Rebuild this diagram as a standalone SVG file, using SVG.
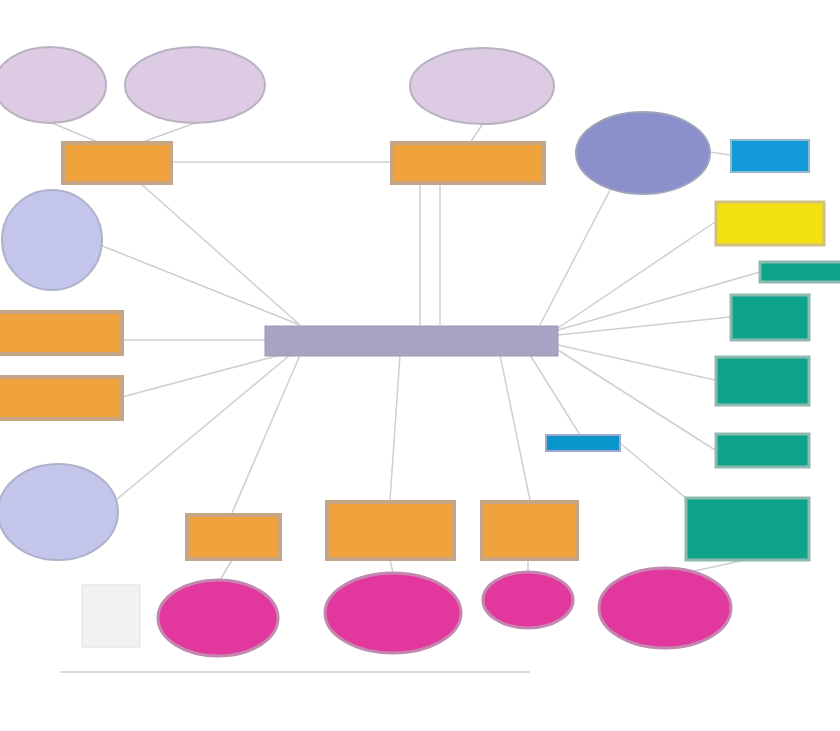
<svg xmlns="http://www.w3.org/2000/svg" width="840" height="731" viewBox="0 0 840 731">
<style>
.lav{fill:#dccbe2;stroke:#b9b2c2;stroke-width:2}
.peri{fill:#c3c6ea;stroke:#aeb2c8;stroke-width:2}
.org{fill:#f0a23c;stroke:#c6a584;stroke-width:4}
.ctr{fill:#a7a3c3;stroke:#9c98b4;stroke-width:1}
.blu{fill:#8b90cc;stroke:#a0a4b8;stroke-width:2}
.cyn{fill:#139ad8;stroke:#8fb8c8;stroke-width:2}
.yel{fill:#f2e010;stroke:#d0c080;stroke-width:3}
.tea{fill:#0ea48a;stroke:#8cbab0;stroke-width:3}
.mag{fill:#e2379c;stroke:#c488b0;stroke-width:3}
.sbl{fill:#0a96c8;stroke:#a0a8d0;stroke-width:2}
.edge{stroke:#cfcfcf;stroke-width:1.5;fill:none}
.lbl{fill:#e6e6e6}
</style>
<g id="connectors">
<line class="edge" x1="172" y1="162" x2="390" y2="162"/>
<line class="edge" x1="52" y1="123" x2="100" y2="143"/>
<line class="edge" x1="195" y1="123" x2="140" y2="143"/>
<line class="edge" x1="482" y1="125" x2="470" y2="143"/>
<line class="edge" x1="420" y1="183" x2="420" y2="325"/>
<line class="edge" x1="440" y1="183" x2="440" y2="325"/>
<line class="edge" x1="140" y1="183" x2="300" y2="325"/>
<line class="edge" x1="100" y1="245" x2="300" y2="325"/>
<line class="edge" x1="122" y1="340" x2="265" y2="340"/>
<line class="edge" x1="122" y1="397" x2="280" y2="355"/>
<line class="edge" x1="110" y1="505" x2="290" y2="355"/>
<line class="edge" x1="232" y1="513" x2="300" y2="355"/>
<line class="edge" x1="390" y1="500" x2="400" y2="355"/>
<line class="edge" x1="530" y1="500" x2="500" y2="355"/>
<line class="edge" x1="580" y1="435" x2="530" y2="355"/>
<line class="edge" x1="610" y1="190" x2="540" y2="325"/>
<line class="edge" x1="558" y1="335" x2="730" y2="317"/>
<line class="edge" x1="558" y1="345" x2="715" y2="380"/>
<line class="edge" x1="558" y1="350" x2="715" y2="450"/>
<line class="edge" x1="558" y1="330" x2="760" y2="272"/>
<line class="edge" x1="558" y1="328" x2="715" y2="222"/>
<line class="edge" x1="620" y1="443" x2="700" y2="510"/>
<line class="edge" x1="710" y1="152" x2="730" y2="155"/>
<line class="edge" x1="232" y1="560" x2="220" y2="580"/>
<line class="edge" x1="390" y1="560" x2="393" y2="573"/>
<line class="edge" x1="528" y1="560" x2="528" y2="572"/>
<line class="edge" x1="745" y1="560" x2="690" y2="572"/>
<line class="edge" x1="60" y1="672" x2="530" y2="672"/>
</g>
<g id="n1"><ellipse class="lav" cx="50" cy="85" rx="56" ry="38"/></g>
<g id="n2"><ellipse class="lav" cx="195" cy="85" rx="70" ry="38"/></g>
<g id="n3"><ellipse class="lav" cx="482" cy="86" rx="72" ry="38"/></g>
<g id="n4"><rect class="org" x="63" y="143" width="108" height="40"/></g>
<g id="n5"><rect class="org" x="392" y="143" width="152" height="40"/></g>
<g id="n6"><ellipse class="blu" cx="643" cy="153" rx="67" ry="41"/></g>
<g id="n7"><rect class="cyn" x="731" y="140" width="78" height="32"/></g>
<g id="n8"><rect class="yel" x="716" y="202" width="108" height="43"/></g>
<g id="n9"><rect class="tea" x="760" y="262" width="82" height="20"/></g>
<g id="n10"><rect class="tea" x="731" y="295" width="78" height="45"/></g>
<g id="n11"><rect class="tea" x="716" y="357" width="93" height="48"/></g>
<g id="n12"><rect class="tea" x="716" y="434" width="93" height="33"/></g>
<g id="n13"><rect class="tea" x="686" y="498" width="123" height="62"/></g>
<g id="n14"><circle class="peri" cx="52" cy="240" r="50"/></g>
<g id="n15"><rect class="org" x="-4" y="312" width="126" height="42"/></g>
<g id="n16"><rect class="org" x="-4" y="377" width="126" height="42"/></g>
<g id="n17"><ellipse class="peri" cx="58" cy="512" rx="60" ry="48"/></g>
<g id="n18"><rect class="ctr" x="265" y="326" width="293" height="30"/></g>
<g id="n19"><rect class="sbl" x="546" y="435" width="74" height="16"/></g>
<g id="n20"><rect class="org" x="187" y="515" width="93" height="44"/></g>
<g id="n21"><rect class="org" x="327" y="502" width="127" height="57"/></g>
<g id="n22"><rect class="org" x="482" y="502" width="95" height="57"/></g>
<g id="n23"><ellipse class="mag" cx="218" cy="618" rx="60" ry="38"/></g>
<g id="n24"><ellipse class="mag" cx="393" cy="613" rx="68" ry="40"/></g>
<g id="n25"><ellipse class="mag" cx="528" cy="600" rx="45" ry="28"/></g>
<g id="n26"><ellipse class="mag" cx="665" cy="608" rx="66" ry="40"/></g>
<g id="n27"><rect x="82" y="585" width="58" height="62" fill="#f2f2f2" stroke="#e0e0e0"/></g>
</svg>
